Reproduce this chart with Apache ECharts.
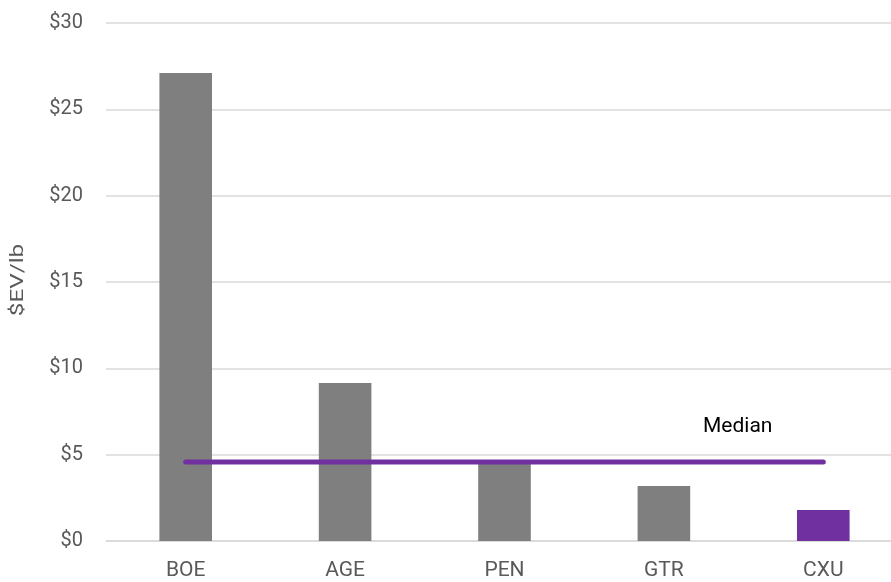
<!DOCTYPE html>
<html>
<head>
<meta charset="utf-8">
<script src="https://cdn.jsdelivr.net/npm/echarts@6/dist/echarts.min.js"></script>
<style>
    html, body {margin: 0; padding: 0; background: #fff; overflow: hidden;}
    #chart {width: 903px; height: 582px;}
</style>
</head>
<body>
<div id="chart"></div>
<script>
var categories = ['BOE', 'AGE', 'PEN', 'GTR', 'CXU'];
var evPerLb = [27.1, 9.15, 4.5, 3.18, 1.8];
var medianValue = 4.57;
var yTicks = [0, 5, 10, 15, 20, 25, 30];

var barColors = ['#7f7f7f', '#7f7f7f', '#7f7f7f', '#7f7f7f', '#7030a0'];

var myChart = echarts.init(document.getElementById('chart'));
var option = {
    animation: false,
    textStyle: {fontFamily: 'Roboto'},
    grid: {
        left: 106,
        right: 0,
        top: 23,
        bottom: 41
    },
    xAxis: {
        type: 'category',
        data: categories,
        axisTick: {show: false},
        axisLine: {
            lineStyle: {color: '#d9d9d9', width: 1.5}
        },
        axisLabel: {
            color: '#595959',
            fontSize: 21,
            margin: 19
        }
    },
    yAxis: {
        type: 'value',
        min: yTicks[0],
        max: yTicks[yTicks.length - 1],
        interval: 5,
        axisLine: {show: false},
        axisTick: {show: false},
        splitLine: {
            lineStyle: {color: '#d9d9d9', width: 1.5}
        },
        axisLabel: {
            color: '#595959',
            fontSize: 20,
            margin: 23,
            formatter: function (v) {
                return '$' + v;
            }
        }
    },
    series: [
        {
            type: 'bar',
            barWidth: '33%',
            data: evPerLb.map(function (v, i) {
                return {value: v, itemStyle: {color: barColors[i]}};
            })
        },
        {
            type: 'line',
            symbol: 'none',
            lineStyle: {color: '#7030a0', width: 5, cap: 'round'},
            data: categories.map(function () {
                return medianValue;
            }),
            z: 5
        }
    ],
    graphic: [
        {
            // y axis title, stretched along its length like the original
            type: 'text',
            x: 18.5,
            y: 280,
            rotation: Math.PI / 2,
            scaleX: 1.35,
            style: {
                text: '$EV/lb',
                fill: '#595959',
                fontSize: 18,
                fontFamily: 'Roboto',
                align: 'center',
                verticalAlign: 'middle'
            }
        },
        {
            type: 'text',
            left: 703,
            top: 416,
            style: {
                text: 'Median',
                fill: '#000',
                fontSize: 21,
                fontFamily: 'Roboto'
            }
        }
    ]
};
myChart.setOption(option);
</script>
</body>
</html>
